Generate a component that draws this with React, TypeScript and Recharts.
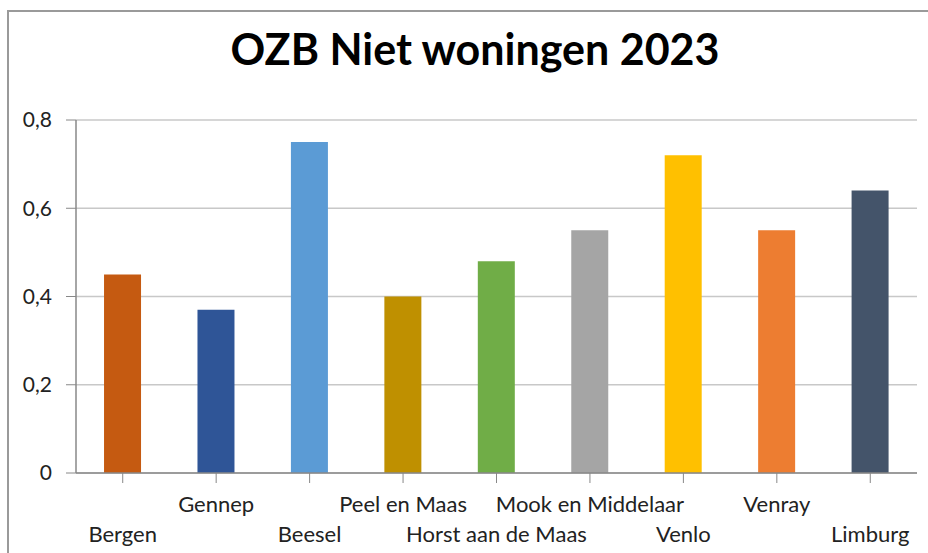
import React from 'react';
import { BarChart, Bar, XAxis, YAxis, CartesianGrid, Cell } from 'recharts';

const gemeenten = ['Bergen', 'Gennep', 'Beesel', 'Peel en Maas', 'Horst aan de Maas', 'Mook en Middelaar', 'Venlo', 'Venray', 'Limburg'];
const ozb = [0.45, 0.37, 0.75, 0.40, 0.48, 0.55, 0.72, 0.55, 0.64];
const kleuren = ['#C55A11', '#2F5597', '#5B9BD5', '#BF9000', '#70AD47', '#A5A5A5', '#FFC000', '#ED7D31', '#44546A'];
const yTicks = [0, 0.2, 0.4, 0.6, 0.8];

const data = gemeenten.map((naam, i) => ({ naam, waarde: ozb[i] }));

const FONT = 'Lato, "Open Sans", sans-serif';

// labels om en om op twee regels, zoals in Excel
const XTick = (props: any) => {
    const { x, y, payload, index } = props;
    const low = index % 2 === 0;
    return (
        <g>
            <line x1={x} x2={x} y1={y - 8} y2={y + 2} stroke="#888" />
            <text x={x} y={y + (low ? 61 : 31)} textAnchor="middle" fontSize={22} fill="#222" fontFamily={FONT}>
                {payload.value}
            </text>
        </g>
    );
};

export default function App() {
    return (
        <div style={{ position: 'fixed', left: 0, top: 0, width: 928, height: 553, background: '#fff', overflow: 'hidden' }}>
            <BarChart
                width={928}
                height={553}
                data={data}
                margin={{ top: 120, right: 11, left: 0, bottom: 0 }}
                barCategoryGap="30%"
                style={{ position: 'absolute', left: 0, top: 0 }}
            >
                <CartesianGrid vertical={false} stroke="#c8c8c8" strokeWidth={1.5} />
                <XAxis
                    dataKey="naam"
                    height={80}
                    interval={0}
                    tickLine={false}
                    axisLine={{ stroke: '#888', strokeWidth: 1.5 }}
                    tick={<XTick />}
                />
                <YAxis
                    width={76}
                    domain={[0, 0.8]}
                    ticks={yTicks}
                    tickFormatter={(v: number) => String(v).replace('.', ',')}
                    tick={{ fontSize: 21, fill: '#222', fontFamily: FONT }}
                    tickLine={{ stroke: '#888' }}
                    tickSize={10}
                    tickMargin={14}
                    axisLine={{ stroke: '#888', strokeWidth: 1.5 }}
                />
                <Bar dataKey="waarde" isAnimationActive={false}>
                    {data.map((d, i) => (
                        <Cell key={d.naam} fill={kleuren[i]} />
                    ))}
                </Bar>
            </BarChart>
            {/* rand van het grafiekvlak: alleen links en boven zichtbaar */}
            <div style={{ position: 'absolute', left: 7, top: 10, width: 921, height: 2, background: '#9a9a9a' }} />
            <div style={{ position: 'absolute', left: 7, top: 10, width: 2, height: 543, background: '#9a9a9a' }} />
            <div style={{ position: 'absolute', left: 0, top: 23, width: 950, textAlign: 'center', fontFamily: FONT, fontWeight: 700, fontSize: 43, color: '#000' }}>
                OZB Niet woningen 2023
            </div>
        </div>
    );
}
